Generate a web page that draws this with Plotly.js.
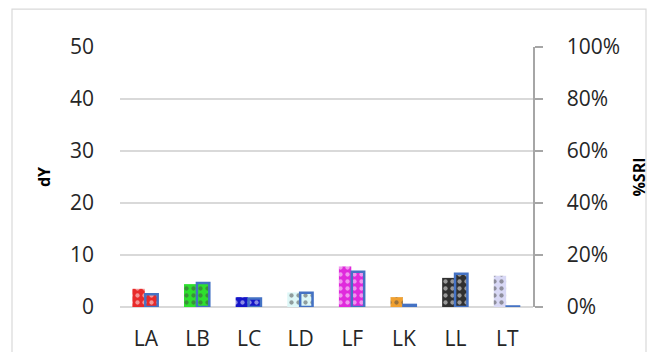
<!DOCTYPE html>
<html><head><meta charset="utf-8">
<script src="https://cdn.plot.ly/plotly-3.0.1.min.js"></script>
<style>html,body{margin:0;padding:0;background:#fff;}#chart{width:659px;height:352px;}</style>
</head><body><div id="chart"></div>
<script>
const categories = ['LA','LB','LC','LD','LF','LK','LL','LT'];
const dY = [3.5, 4.4, 1.9, 2.8, 7.8, 1.9, 5.6, 6.0];
const pctSRI = [0.049, 0.092, 0.033, 0.055, 0.136, 0.008, 0.128, 0.002];
const barColors = ['#E82A2A','#2EE02E','#1515C8','#DDF7F7','#E02ADC','#F0A030','#303030','#D8D8F5'];

const tickFont = {family: 'Open Sans, sans-serif', size: 21, color: '#262626'};
const titleFont = {family: 'Open Sans, sans-serif', size: 16, color: '#000'};

const traces = [
  {
    type: 'bar', x: categories, y: dY, yaxis: 'y', name: 'dY',
    width: 0.24, offset: -0.26,
    marker: {color: barColors, line: {width: 0},
      pattern: {shape: '.', fillmode: 'overlay', fgcolor: 'rgba(255,255,255,0.5)', size: 7, solidity: 0.3}},
    hoverinfo: 'x+y'
  },
  {
    type: 'bar', x: categories, y: pctSRI, yaxis: 'y2', name: '%SRI',
    width: 0.24, offset: -0.01,
    marker: {color: barColors, line: {width: 2.5, color: '#4472C4'},
      pattern: {shape: '.', fillmode: 'overlay', fgcolor: 'rgba(255,255,255,0.5)', size: 7, solidity: 0.3}},
    hoverinfo: 'x+y'
  }
];

const layout = {
  width: 659, height: 352,
  margin: {l: 120, r: 126, t: 47, b: 45, pad: 0},
  paper_bgcolor: '#fff', plot_bgcolor: '#fff',
  showlegend: false,
  xaxis: {
    type: 'category', tickfont: tickFont, showgrid: false, showline: false,
    ticks: '', ticklabelstandoff: 17, range: [-0.5, 7.5]
  },
  yaxis: {
    range: [0, 50], dtick: 10, tickfont: tickFont,
    showgrid: true, gridcolor: '#D9D9D9', gridwidth: 1.5,
    zeroline: true, zerolinecolor: '#D9D9D9', zerolinewidth: 1.5,
    showline: false, ticks: '', ticklabelstandoff: 25,
    title: {text: '<b>dY</b>', font: titleFont, standoff: 15}
  },
  yaxis2: {
    overlaying: 'y', side: 'right', range: [0, 1], dtick: 0.2, tickformat: '.0%',
    tickfont: tickFont, showgrid: false, zeroline: false,
    showline: true, linecolor: '#A6A6A6', linewidth: 1.5,
    ticks: 'outside', ticklen: 8, tickcolor: '#A6A6A6', tickwidth: 1.5,
    ticklabelstandoff: 20,
    title: {text: '<b>%SRI</b>', font: titleFont, standoff: 14}
  },
  shapes: [{
    type: 'rect', xref: 'paper', yref: 'paper',
    x0: -0.2615, x1: 1.2736, y0: -0.25, y1: 1.146,
    line: {color: '#D9D9D9', width: 1.2}, fillcolor: 'rgba(0,0,0,0)', layer: 'below'
  }]
};

Plotly.newPlot('chart', traces, layout, {displayModeBar: false, staticPlot: true});
</script></body></html>
